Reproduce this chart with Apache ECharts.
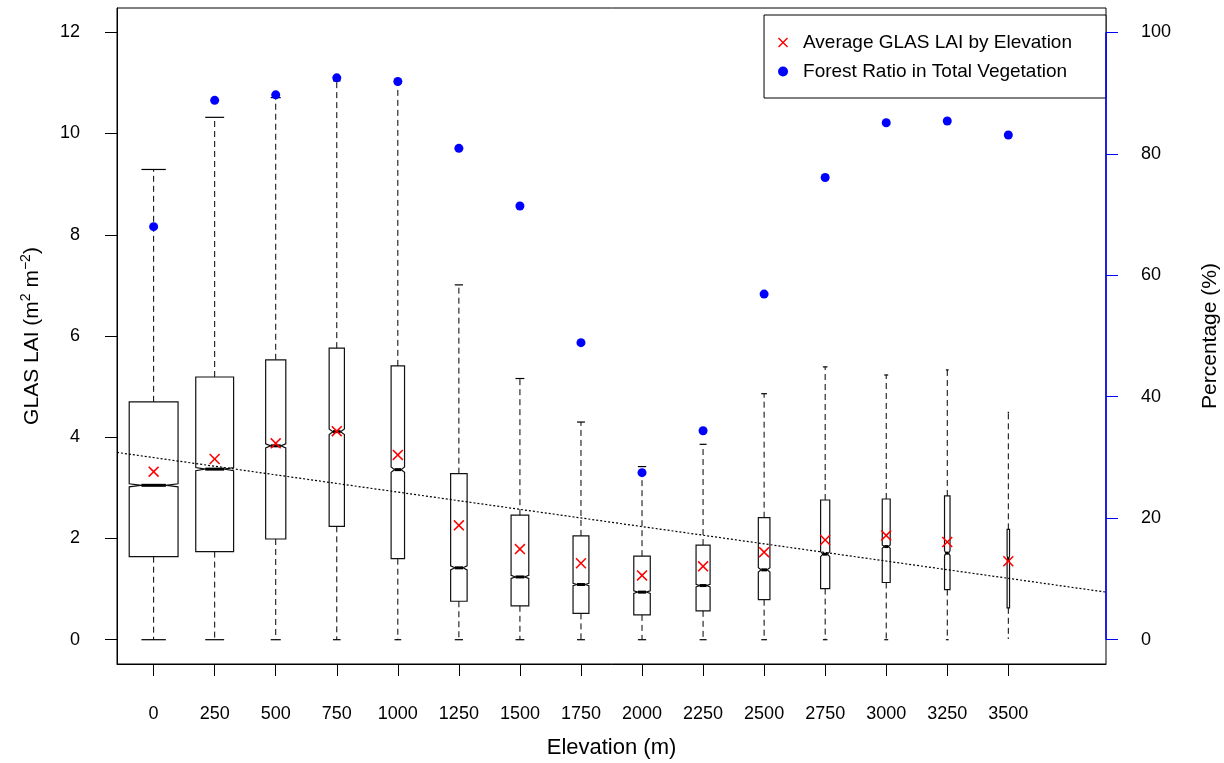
<!DOCTYPE html>
<html><head><meta charset="utf-8">
<script src="https://cdn.jsdelivr.net/npm/echarts@6/dist/echarts.min.js"></script>
<style>html,body{margin:0;padding:0;background:#fff}#c{width:1224px;height:763px}</style>
</head><body><div id="c"></div>
<script>
// ---- data ----
const elevationLabels = ['0','250','500','750','1000','1250','1500','1750','2000','2250','2500','2750','3000','3250','3500'];
const whiskerLow  = [0,0,0,0,0,0,0,0,0,0,0,0,0,0,0.03];
const q1          = [1.64,1.74,1.99,2.24,1.60,0.76,0.67,0.52,0.49,0.57,0.79,1.01,1.13,0.99,0.63];
const median      = [3.05,3.37,3.83,4.11,3.36,1.42,1.24,1.09,0.94,1.07,1.38,1.69,1.84,1.71,1.60];
const q3          = [4.70,5.19,5.53,5.76,5.41,3.28,2.46,2.05,1.65,1.87,2.41,2.76,2.78,2.84,2.18];
const whiskerHigh = [9.29,10.32,10.71,11.04,10.99,7.01,5.16,4.30,3.42,3.86,4.86,5.39,5.23,5.33,4.49];
const notchHalf   = [0.03,0.03,0.04,0.055,0.053,0.04,0.03,0.025,0.026,0.026,0.043,0.05,0.033,0.05,0.06];
const boxWidth    = [0.80,0.62,0.33,0.25,0.22,0.27,0.29,0.26,0.27,0.23,0.19,0.15,0.13,0.09,0.04];
const meanLAI     = [3.32,3.57,3.88,4.12,3.65,2.26,1.79,1.51,1.27,1.45,1.73,1.97,2.06,1.93,1.55];
const forestPct   = [68.0,88.8,89.7,92.5,91.9,80.9,71.4,48.9,27.5,34.4,56.9,76.1,85.1,85.4,83.1];
const trendX      = [-0.6, 15.6];
const trendY      = [3.70, 0.94];
const laiTicks    = [0,2,4,6,8,10,12];
const pctTicks    = [0,20,40,60,80,100];

// ---- build ----
const idx = elevationLabels.map((_, i) => i);
const boxData = idx.map(i => [i, whiskerLow[i], q1[i], median[i], q3[i], whiskerHigh[i], notchHalf[i], boxWidth[i]]);
const meanData = idx.map(i => [i, meanLAI[i]]);
const pctData = idx.map(i => [i, forestPct[i]]);
const trendData = trendX.map((x, i) => [x, trendY[i]]);
const X_MIN = -0.6, X_MAX = 15.6;
const rightAxisSpan = [[X_MAX, pctTicks[0]], [X_MAX, pctTicks[pctTicks.length - 1]]];

const FONT = '"Liberation Sans", Arial, sans-serif';
const crossPath = 'path://M0,1 L1,0 L5,4 L9,0 L10,1 L6,5 L10,9 L9,10 L5,6 L1,10 L0,9 L4,5 Z';

function renderBox(params, api) {
  const i = api.value(0);
  const lo = api.coord([i, api.value(1)]);
  const p1 = api.coord([i, api.value(2)]);
  const pm = api.coord([i, api.value(3)]);
  const p3 = api.coord([i, api.value(4)]);
  const hi = api.coord([i, api.value(5)]);
  const nTop = api.coord([i, api.value(3) + api.value(6)])[1];
  const nBot = api.coord([i, api.value(3) - api.value(6)])[1];
  const hw = api.size([api.value(7), 0])[0] / 2;
  const x = pm[0];
  const ind = hw / 2;
  const dash = {stroke: '#000', lineWidth: 1, lineDash: [6, 4], fill: null};
  const solid = {stroke: '#000', lineWidth: 1.2, fill: null};
  return {type: 'group', children: [
    {type: 'line', shape: {x1: x, y1: p3[1], x2: x, y2: hi[1]}, style: dash},
    {type: 'line', shape: {x1: x, y1: p1[1], x2: x, y2: lo[1]}, style: dash},
    {type: 'line', shape: {x1: x - ind, y1: hi[1], x2: x + ind, y2: hi[1]}, style: solid},
    {type: 'line', shape: {x1: x - ind, y1: lo[1], x2: x + ind, y2: lo[1]}, style: solid},
    {type: 'polygon', shape: {points: [
      [x - hw, p1[1]], [x - hw, nBot], [x - ind, pm[1]], [x - hw, nTop], [x - hw, p3[1]],
      [x + hw, p3[1]], [x + hw, nTop], [x + ind, pm[1]], [x + hw, nBot], [x + hw, p1[1]]
    ]}, style: {fill: 'rgba(255,255,255,0)', stroke: '#111', lineWidth: 1.2}},
    {type: 'line', shape: {x1: x - ind, y1: pm[1], x2: x + ind, y2: pm[1]}, style: {stroke: '#000', lineWidth: 3}}
  ]};
}

const chart = echarts.init(document.getElementById('c'), null, {renderer: 'canvas'});
chart.setOption({
  animation: false,
  backgroundColor: '#fff',
  textStyle: {fontFamily: FONT},
  grid: {left: 117, right: 118, top: 8, bottom: 99, show: true, borderColor: '#000', borderWidth: 1, containLabel: false, outerBoundsMode: 'none'},
  legend: {
    right: 118, top: 15,
    orient: 'vertical',
    padding: [18, 34, 17, 14],
    itemGap: 10,
    itemWidth: 10, itemHeight: 10,
    borderColor: '#000', borderWidth: 1, borderRadius: 0,
    backgroundColor: '#fff',
    textStyle: {fontSize: 19, color: '#000', fontFamily: FONT, padding: [0, 0, 0, 10]},
    data: [
      {name: 'Average GLAS LAI by Elevation', icon: crossPath},
      {name: 'Forest Ratio in Total Vegetation', icon: 'circle'}
    ]
  },
  xAxis: {
    type: 'value', min: X_MIN, max: X_MAX,
    name: 'Elevation (m)', nameLocation: 'middle', nameGap: 73,
    nameTextStyle: {fontSize: 22, color: '#000', fontFamily: FONT},
    axisLine: {show: true, onZero: false, lineStyle: {color: '#000', width: 1}},
    axisTick: {show: true, inside: false, length: 12, customValues: idx, lineStyle: {color: '#000'}},
    axisLabel: {show: true, margin: 41, fontSize: 18, color: '#000', customValues: idx,
      formatter: v => elevationLabels[Math.round(v)]},
    splitLine: {show: false}
  },
  yAxis: [{
    type: 'value', min: -0.48, max: 12.48, position: 'left',
    name: 'GLAS LAI (m{sup|2} m{sup|\u22122})', nameLocation: 'middle', nameRotate: 90, nameGap: 72,
    nameTextStyle: {fontSize: 21, color: '#000', fontFamily: FONT, lineHeight: 26,
      rich: {sup: {fontSize: 14, verticalAlign: 'top', lineHeight: 14, color: '#000', fontFamily: FONT}}},
    axisLine: {show: true, onZero: false, lineStyle: {color: '#000', width: 1}},
    axisTick: {show: true, inside: false, length: 12, customValues: laiTicks, lineStyle: {color: '#000'}},
    axisLabel: {show: true, margin: 37, fontSize: 18, color: '#000', customValues: laiTicks},
    splitLine: {show: false}
  }, {
    type: 'value', min: -4, max: 104, position: 'right',
    name: 'Percentage (%)', nameLocation: 'middle', nameRotate: 90, nameGap: 94,
    nameTextStyle: {fontSize: 21, color: '#000', fontFamily: FONT},
    axisLine: {show: false, onZero: false},
    axisTick: {show: true, inside: false, length: 12, customValues: pctTicks, lineStyle: {color: '#0000ff'}},
    axisLabel: {show: true, margin: 35, fontSize: 18, color: '#000', align: 'left', customValues: pctTicks},
    splitLine: {show: false}
  }],
  series: [
    {
      type: 'line', name: 'rightAxisLine', yAxisIndex: 1, data: rightAxisSpan,
      symbol: 'none', clip: false, silent: true, z: 5,
      lineStyle: {color: '#0000ff', width: 1.5}
    },
    {
      type: 'custom', name: 'boxes', renderItem: renderBox, data: boxData,
      encode: {x: 0, y: [1, 2, 3, 4, 5]}, z: 2, silent: true
    },
    {
      type: 'line', name: 'trend', data: trendData, symbol: 'none', silent: true, z: 3,
      lineStyle: {color: '#000', width: 1.2, type: [2, 2]}
    },
    {
      type: 'scatter', name: 'Average GLAS LAI by Elevation', data: meanData,
      symbol: crossPath, symbolSize: 11, itemStyle: {color: '#ff0000', opacity: 1}, z: 4
    },
    {
      type: 'scatter', name: 'Forest Ratio in Total Vegetation', yAxisIndex: 1, data: pctData,
      symbol: 'circle', symbolSize: 9, itemStyle: {color: '#0000ff', opacity: 1}, z: 4
    }
  ]
});
</script>
</body></html>
